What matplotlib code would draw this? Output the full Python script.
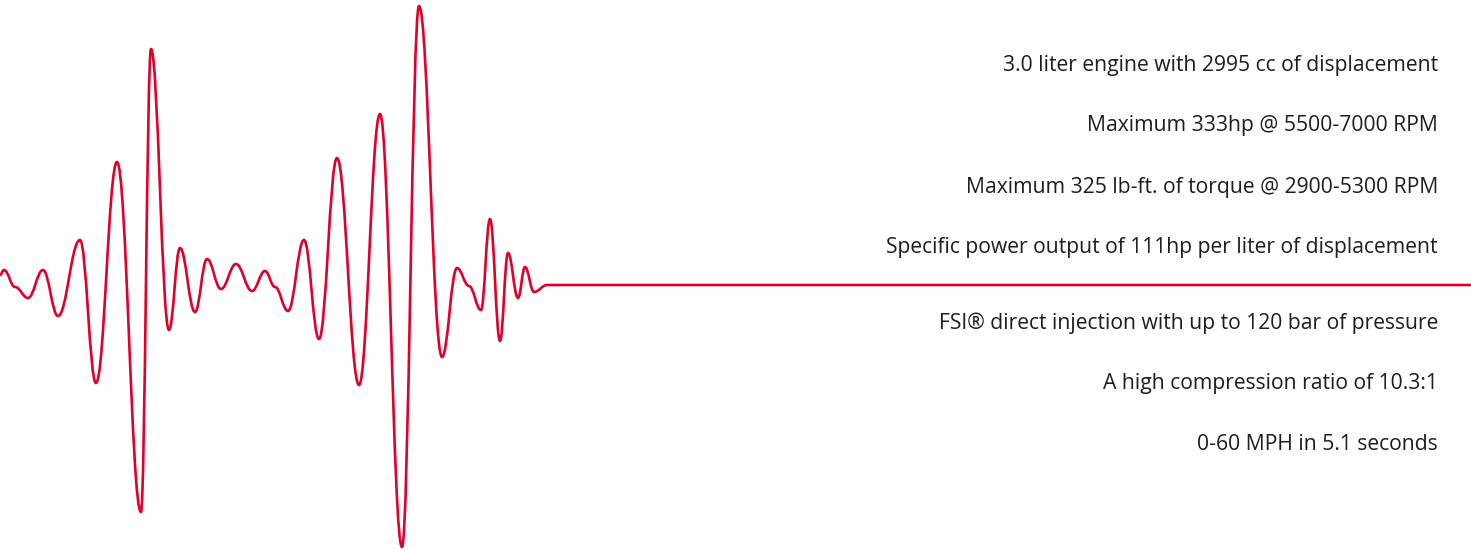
import numpy as np
import matplotlib
matplotlib.use('Agg')
import matplotlib.pyplot as plt
from matplotlib.path import Path
from matplotlib.patches import PathPatch

# waveform extrema: time position [px] and amplitude above the baseline
wave_t = [0, 4, 15, 28, 43, 58, 80, 96, 117, 141, 151, 169, 180, 195, 207, 221, 236, 252,
          265, 275, 288, 304, 319, 337, 359, 380, 402, 419, 442, 457, 469, 481, 490, 500,
          508, 518, 525, 534, 547, 1471]
wave_amp = [10, 15, -2, -13, 15, -31, 45, -98, 123, -227, 236, -45, 37, -27, 26, -4, 21, -6,
            14, -2, -26, 45, -54, 127, -100, 171, -262, 279, -72, 17, -1, -25, 66, -56,
            32, -13, 18, -7, 0, 0]

specs = [
    '3.0 liter engine with 2995 cc of displacement',
    'Maximum 333hp @ 5500-7000 RPM',
    'Maximum 325 lb-ft. of torque @ 2900-5300 RPM',
    'Specific power output of 111hp per liter of displacement',
    'FSI\u00ae direct injection with up to 120 bar of pressure',
    'A high compression ratio of 10.3:1',
    '0-60 MPH in 5.1 seconds',
]
spec_y = [220, 159, 98, 38, -38, -99, -159]  # label height relative to baseline

RED = '#e1002a'
baseline = 285

fig = plt.figure(figsize=(14.71, 5.5), dpi=100)
ax = fig.add_axes([0, 0, 1, 1])
ax.set_xlim(0, 1471)
ax.set_ylim(baseline - 550, baseline)
ax.axis('off')

# smooth curve: cubic bezier between extrema, flat tangents at every extremum
verts = [(wave_t[0], wave_amp[0])]
codes = [Path.MOVETO]
for i in range(1, len(wave_t)):
    x0, y0 = wave_t[i - 1], wave_amp[i - 1]
    x1, y1 = wave_t[i], wave_amp[i]
    d = (x1 - x0) * 0.4
    verts += [(x0 + d, y0), (x1 - d, y1), (x1, y1)]
    codes += [Path.CURVE4] * 3
ax.add_patch(PathPatch(Path(verts, codes), fill=False, edgecolor=RED, lw=1.9,
                       capstyle='round', joinstyle='round'))

for s, y in zip(specs, spec_y):
    ax.text(1438, y, s, ha='right', va='center', fontsize=15.2, color='#1e1e1e',
            family='Open Sans')

fig.savefig('out.png', dpi=100)
